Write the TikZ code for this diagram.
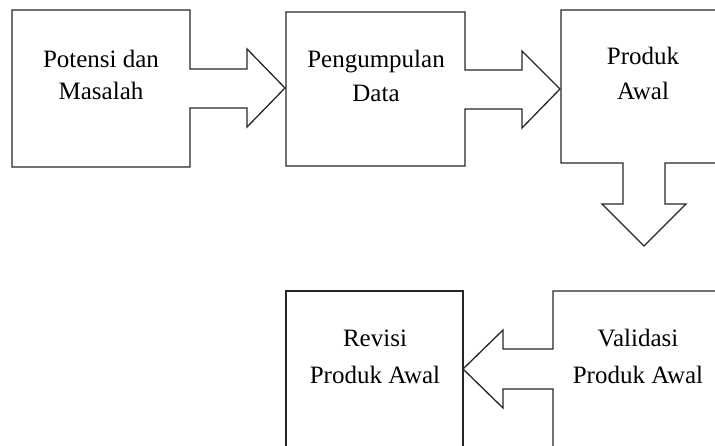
\documentclass[tikz,border=0pt]{standalone}
\usepackage{fontspec}
\setmainfont{Liberation Serif}
\begin{document}
\begin{tikzpicture}[x=1pt,y=-1pt,
  shapeline/.style={draw=black!85,line width=1.3pt,line join=miter},
  lbl/.style={font=\fontsize{25}{30}\selectfont,anchor=base,inner sep=0pt,text=black}]
\useasboundingbox (0,0) rectangle (715,446);
\clip (0,0) rectangle (715,446);
% box 1 with right arrow
\draw[shapeline] (12,10) -- (190,10) -- (190,69) -- (247,69) -- (247,49) -- (285,88)
  -- (247,127) -- (247,108) -- (190,108) -- (190,167) -- (12,167) -- cycle;
% box 2 with right arrow
\draw[shapeline] (286,12) -- (465,12) -- (465,70) -- (522,70) -- (522,51) -- (560,89)
  -- (522,128) -- (522,109) -- (465,109) -- (465,166) -- (286,166) -- cycle;
% box 3 with down arrow
\draw[shapeline] (725,10) -- (561,10) -- (561,163) -- (623,163) -- (623,204) -- (602,204)
  -- (644,246) -- (686,204) -- (665,204) -- (665,163) -- (725,163);
% box 4
\draw[shapeline] (286,455) -- (286,291) -- (463,291) -- (463,455);
% box 5 with left arrow
\draw[shapeline] (725,291) -- (553,291) -- (553,349) -- (503,349) -- (503,330) -- (463,369)
  -- (503,408) -- (503,389) -- (553,389) -- (553,455);
% texts
\node[lbl] (t1a) at (101,68) {Potensi dan};
\node[lbl] (t1b) at (101,100) {Masalah};
\node[lbl] (t2a) at (376,68) {Pengumpulan};
\node[lbl] (t2b) at (376,102) {Data};
\node[lbl] (t3a) at (643,65) {Produk};
\node[lbl] (t3b) at (643,100) {Awal};
\node[lbl] (t4a) at (375,347) {Revisi};
\node[lbl] (t4b) at (375,383) {Produk Awal};
\node[lbl] (t5a) at (638,347) {Validasi};
\node[lbl] (t5b) at (638,383) {Produk Awal};
\end{tikzpicture}
\end{document}
